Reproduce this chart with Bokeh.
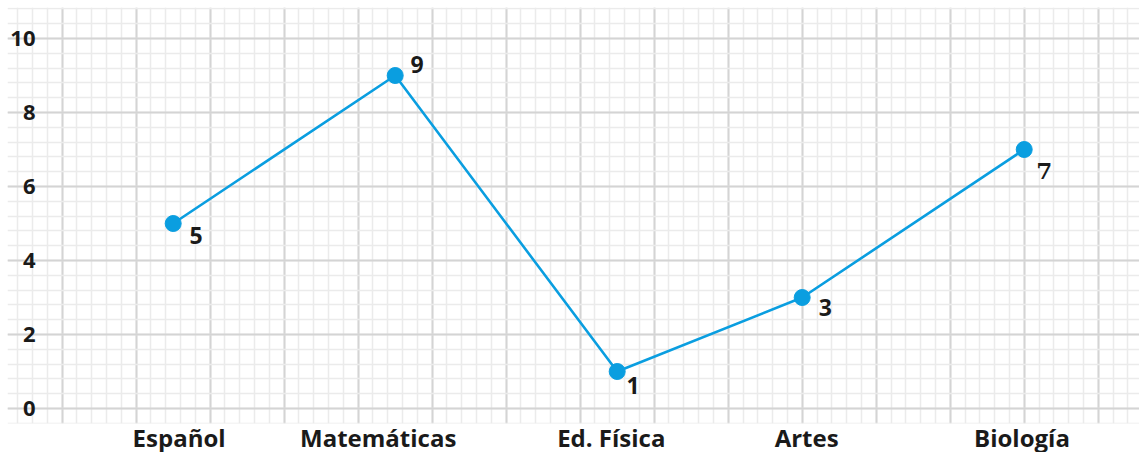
from bokeh.plotting import figure
from bokeh.models import ColumnDataSource, FixedTicker, SingleIntervalTicker, Range1d
from bokeh.core.properties import value
from bokeh.embed import file_html
from bokeh.resources import INLINE

# ---- data ----
subjects = ["Español", "Matemáticas", "Ed. Física", "Artes", "Biología"]
scores = [5, 9, 1, 3, 7]
subject_x = [1.5, 4.5, 7.5, 10.0, 13.0]             # position of each subject on the grid
subject_label_x = [1.58, 4.27, 7.42, 10.06, 12.97]  # where the subject names sit
y_ticks = [0, 2, 4, 6, 8, 10]
y_tick_labels = ["0", "2", "4", "6", "8", "10"]

# ---- layout / style ----
label_dx = [23, 22, 16, 23, 20]
label_dy = [12, -11, 14, 10, 21]
label_fonts = ["Open Sans", "Open Sans", "Open Sans", "Open Sans", "DejaVu Serif"]
BLUE = "#0a9ee0"

x_start, x_end = -0.739, 14.558
y_start, y_end = -0.405, 10.838

p = figure(frame_width=1132, frame_height=416, output_backend="svg", toolbar_location=None,
           x_range=Range1d(x_start, x_end), y_range=Range1d(y_start, y_end),
           min_border_left=7, min_border_right=0, min_border_top=7, min_border_bottom=0)
p.outline_line_color = None
p.background_fill_color = "white"

# grid paper
p.xgrid.ticker = SingleIntervalTicker(interval=1, num_minor_ticks=5)
p.ygrid.ticker = SingleIntervalTicker(interval=2, num_minor_ticks=5)
for g in (p.xgrid, p.ygrid):
    g.grid_line_color = "#d4d4d4"
    g.grid_line_width = 2
    g.minor_grid_line_color = "#ebebeb"
    g.minor_grid_line_width = 1.5

# axes
p.yaxis.visible = False
xa = p.xaxis[0]
xa.ticker = FixedTicker(ticks=subject_label_x)
xa.major_label_overrides = {t: s for t, s in zip(subject_label_x, subjects)}
xa.axis_line_color = None
xa.major_tick_line_color = None
xa.minor_tick_line_color = None
xa.major_label_standoff = -9
xa.major_label_text_font = "Open Sans"
xa.major_label_text_font_style = "bold"
xa.major_label_text_font_size = "24px"
xa.major_label_text_color = "#1a1a1a"

# y tick labels drawn inside the grid
ysrc = ColumnDataSource(dict(x=[x_start + 28 / 74] * len(y_ticks), y=y_ticks, t=y_tick_labels))
p.text(x="x", y="y", text="t", source=ysrc, text_align="right", text_baseline="middle",
       text_font=value("Open Sans"), text_font_style="bold", text_font_size="22px",
       text_color="#1a1a1a")

# series
src = ColumnDataSource(dict(x=subject_x, y=scores, t=[str(s) for s in scores],
                            dx=label_dx, dy=label_dy, f=label_fonts))
p.line(x="x", y="y", source=src, line_color=BLUE, line_width=2.6)
p.scatter(x="x", y="y", source=src, size=16, fill_color=BLUE, line_color=BLUE)
p.text(x="x", y="y", text="t", source=src, x_offset="dx", y_offset="dy",
       text_align="center", text_baseline="middle", text_font="f",
       text_font_style="bold", text_font_size="23px", text_color="#1a1a1a")

open("out.html", "w").write(file_html(p, INLINE))
